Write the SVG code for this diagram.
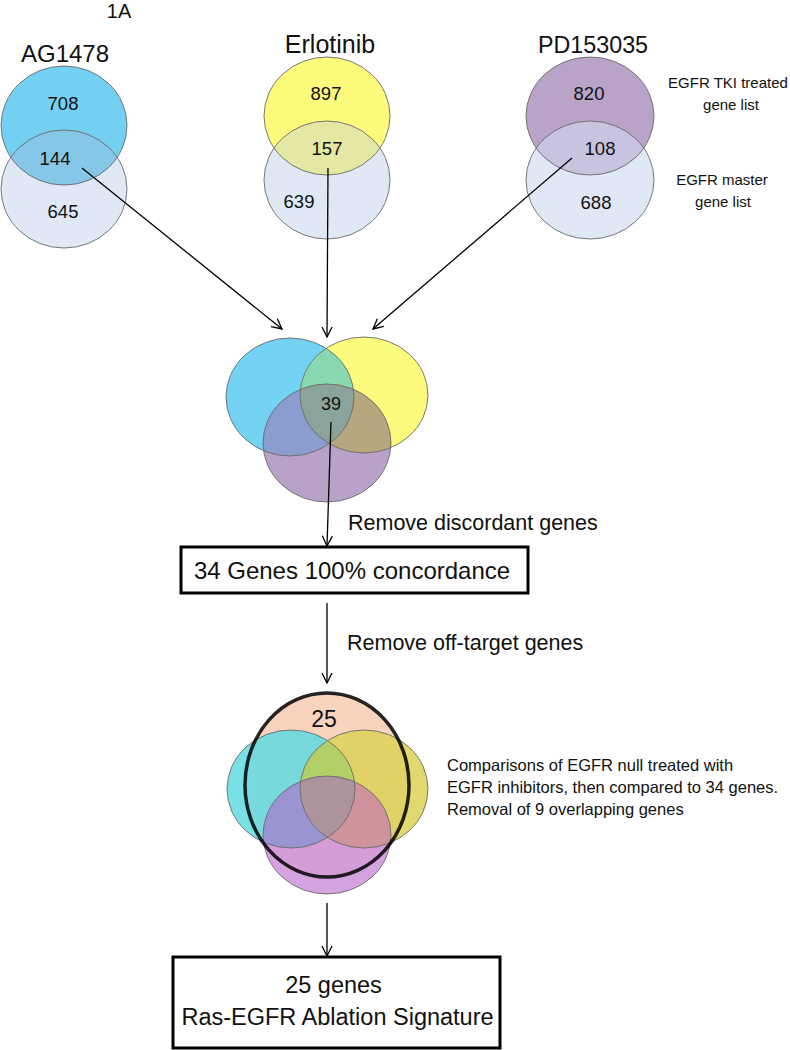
<svg xmlns="http://www.w3.org/2000/svg" width="790" height="1050" viewBox="0 0 790 1050">
<style>
  text { font-family: "Liberation Sans", Arial, sans-serif; fill: #111; }
  .num { font-size: 18.5px; text-anchor: middle; }
  .title { text-anchor: middle; }
  .note { font-size: 15px; text-anchor: middle; }
  .step { font-size: 21.5px; }
  .outline { fill: none; stroke: #6a6a6a; stroke-width: 0.9; }
  .box { fill: #fff; stroke: #000; stroke-width: 3; }
  .conn { stroke: #000; stroke-width: 1.3; fill: none; marker-end: url(#arr); }
</style>
<defs>
  <marker id="arr" viewBox="0 0 12 12" refX="11" refY="6" markerWidth="12" markerHeight="12" markerUnits="userSpaceOnUse" orient="auto">
    <path d="M1,1 L11,6 L1,11" fill="none" stroke="#000" stroke-width="1.3"/>
  </marker>
  <clipPath id="cAGb"><ellipse cx="64" cy="189" rx="63" ry="59"/></clipPath>
  <clipPath id="cERb"><ellipse cx="327" cy="180" rx="63" ry="59"/></clipPath>
  <clipPath id="cPDb"><ellipse cx="590" cy="180" rx="64" ry="59"/></clipPath>
  <clipPath id="cMb"><ellipse cx="290" cy="397" rx="64" ry="59"/></clipPath>
  <clipPath id="cMy"><ellipse cx="364" cy="395" rx="64" ry="58"/></clipPath>
  <clipPath id="cFc"><ellipse cx="291" cy="789" rx="64" ry="59"/></clipPath>
  <clipPath id="cFy"><ellipse cx="364" cy="789" rx="64" ry="59"/></clipPath>
</defs>

<text x="119" y="18" class="title" style="font-size:20px">1A</text>

<g id="node-ag1478">
  <text x="65" y="62" class="title" style="font-size:24px">AG1478</text>
  <ellipse cx="64" cy="189" rx="63" ry="59" fill="#dfe8f4"/>
  <ellipse cx="64" cy="125.5" rx="63" ry="59.5" fill="#73d0f2"/>
  <ellipse cx="64" cy="125.5" rx="63" ry="59.5" fill="#86c6e6" clip-path="url(#cAGb)"/>
  <ellipse cx="64" cy="125.5" rx="63" ry="59.5" class="outline"/>
  <ellipse cx="64" cy="189" rx="63" ry="59" class="outline"/>
  <text x="63" y="110" class="num">708</text>
  <text x="55" y="165" class="num">144</text>
  <text x="63" y="218" class="num">645</text>
</g>

<g id="node-erlotinib">
  <text x="330" y="53" class="title" style="font-size:25px">Erlotinib</text>
  <ellipse cx="327" cy="180" rx="63" ry="59" fill="#dfe8f4"/>
  <ellipse cx="327" cy="116" rx="63" ry="59" fill="#fdfa7c"/>
  <ellipse cx="327" cy="116" rx="63" ry="59" fill="#e5e8a4" clip-path="url(#cERb)"/>
  <ellipse cx="327" cy="116" rx="63" ry="59" class="outline"/>
  <ellipse cx="327" cy="180" rx="63" ry="59" class="outline"/>
  <text x="326" y="100" class="num">897</text>
  <text x="327" y="155" class="num">157</text>
  <text x="299" y="208" class="num">639</text>
</g>

<g id="node-pd153035">
  <text x="593" y="53" class="title" style="font-size:23.3px">PD153035</text>
  <ellipse cx="590" cy="180" rx="64" ry="59" fill="#dfe8f4"/>
  <ellipse cx="590" cy="116" rx="64" ry="59" fill="#b9a3c8"/>
  <ellipse cx="590" cy="116" rx="64" ry="59" fill="#c8c3de" clip-path="url(#cPDb)"/>
  <ellipse cx="590" cy="116" rx="64" ry="59" class="outline"/>
  <ellipse cx="590" cy="180" rx="64" ry="59" class="outline"/>
  <text x="589" y="100" class="num">820</text>
  <text x="600" y="155" class="num">108</text>
  <text x="596" y="209" class="num">688</text>
</g>

<g id="node-legend">
  <text x="728" y="88" class="note">EGFR TKI treated</text>
  <text x="731" y="110" class="note">gene list</text>
  <text x="722" y="185" class="note">EGFR master</text>
  <text x="723" y="207" class="note">gene list</text>
</g>

<g id="node-venn3">
  <ellipse cx="290" cy="397" rx="64" ry="59" fill="#74d3f3"/>
  <ellipse cx="364" cy="395" rx="64" ry="58" fill="#fdfb7d"/>
  <ellipse cx="327" cy="443" rx="64" ry="59" fill="#b8a2c8"/>
  <ellipse cx="364" cy="395" rx="64" ry="58" fill="#88d8b2" clip-path="url(#cMb)"/>
  <ellipse cx="327" cy="443" rx="64" ry="59" fill="#8b9dcf" clip-path="url(#cMb)"/>
  <ellipse cx="327" cy="443" rx="64" ry="59" fill="#b7a77e" clip-path="url(#cMy)"/>
  <g clip-path="url(#cMb)">
    <ellipse cx="327" cy="443" rx="64" ry="59" fill="#8aa49b" clip-path="url(#cMy)"/>
  </g>
  <ellipse cx="290" cy="397" rx="64" ry="59" class="outline"/>
  <ellipse cx="364" cy="395" rx="64" ry="58" class="outline"/>
  <ellipse cx="327" cy="443" rx="64" ry="59" class="outline"/>
  <text x="331" y="410" style="font-size:18px;text-anchor:middle">39</text>
</g>

<text x="348" y="530" class="step">Remove discordant genes</text>

<g id="node-box1">
  <rect x="181" y="547" width="347" height="46" class="box"/>
  <text x="352" y="579" style="font-size:24px;text-anchor:middle">34 Genes 100% concordance</text>
</g>

<text x="347" y="650" class="step">Remove off-target genes</text>

<g id="node-venn-final">
  <ellipse cx="327" cy="785" rx="82" ry="92" fill="#f8d3bd"/>
  <g opacity="0.85">
    <ellipse cx="291" cy="789" rx="64" ry="59" fill="#62dbe2"/>
    <ellipse cx="364" cy="789" rx="64" ry="59" fill="#dcd258"/>
    <ellipse cx="327" cy="835" rx="64" ry="59" fill="#cf94dc"/>
    <ellipse cx="364" cy="789" rx="64" ry="59" fill="#a8d05a" clip-path="url(#cFc)"/>
    <ellipse cx="327" cy="835" rx="64" ry="59" fill="#8a8ad6" clip-path="url(#cFc)"/>
    <ellipse cx="327" cy="835" rx="64" ry="59" fill="#c88896" clip-path="url(#cFy)"/>
    <g clip-path="url(#cFc)">
      <ellipse cx="327" cy="835" rx="64" ry="59" fill="#a08898" clip-path="url(#cFy)"/>
    </g>
  </g>
  <ellipse cx="291" cy="789" rx="64" ry="59" class="outline"/>
  <ellipse cx="364" cy="789" rx="64" ry="59" class="outline"/>
  <ellipse cx="327" cy="835" rx="64" ry="59" class="outline"/>
  <ellipse cx="327" cy="785" rx="82" ry="92" fill="none" stroke="#000" stroke-width="3.5" stroke-opacity="0.85"/>
  <text x="324" y="727" style="font-size:23px;text-anchor:middle">25</text>
</g>

<g id="node-note">
  <text x="447" y="771" style="font-size:16.5px">Comparisons of EGFR null treated with</text>
  <text x="447" y="793" style="font-size:16.5px">EGFR inhibitors, then compared to 34 genes.</text>
  <text x="447" y="815" style="font-size:16.5px">Removal of 9 overlapping genes</text>
</g>

<g id="node-box2">
  <rect x="173" y="957" width="327" height="91" class="box"/>
  <text x="333.5" y="993" style="font-size:23.5px;text-anchor:middle">25 genes</text>
  <text x="337.5" y="1025" style="font-size:23.5px;text-anchor:middle">Ras-EGFR Ablation Signature</text>
</g>

<g id="connectors">
  <line x1="82" y1="168" x2="282" y2="329" class="conn"/>
  <line x1="328" y1="168" x2="327" y2="337" class="conn"/>
  <line x1="572" y1="158" x2="373" y2="329" class="conn"/>
  <line x1="331" y1="422" x2="327" y2="546" class="conn"/>
  <line x1="327" y1="603" x2="327" y2="683" class="conn"/>
  <line x1="327" y1="903" x2="327" y2="956" class="conn"/>
</g>
</svg>
